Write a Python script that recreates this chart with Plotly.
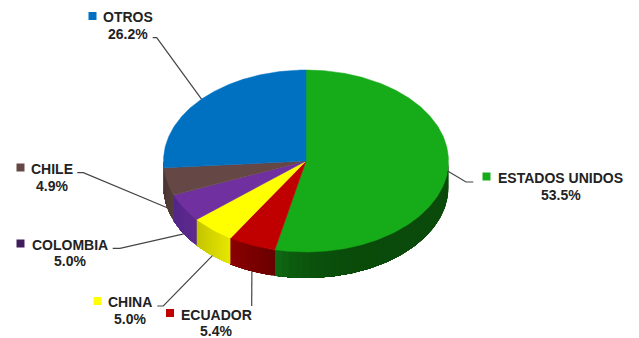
import numpy as np
import plotly.graph_objects as go

categories = ["ESTADOS UNIDOS", "ECUADOR", "CHINA", "COLOMBIA", "CHILE", "OTROS"]
values = [53.5, 5.4, 5.0, 5.0, 4.9, 26.2]
top_colors = ["#16AB18", "#C00000", "#FFFF00", "#7030A0", "#654845", "#0070C0"]
wall_left = ["#0E6A14", "#8C0000", "#C4C400", "#55278A", "#4A3532", "#0070C0"]
wall_right = ["#0A4A0A", "#6A0000", "#E6E600", "#5E2A8E", "#55403C", "#0070C0"]
wall_gamma = [8, 1, 1, 1, 1, 1]
swatch_colors = ["#16AB18", "#C00000", "#FFFF00", "#3F1D5C", "#654845", "#0070C0"]

# layout (pixels of the 639x338 picture)
CX, CY, RX, RY, DEPTH = 306, 161, 142.5, 91, 26
label_x = [560.5, 216, 130, 70, 52, 128]
name_y = [177.5, 314.5, 302, 244.5, 169, 17]
pct_y = [194.5, 331, 318.5, 261, 186, 34]
swatch_x = [486.5, 170, 97.5, 20.5, 20.5, 92.5]
swatch_y = [176.5, 313, 301, 243.5, 167.5, 16]
elbow_x = [466, 251.7, 163.3, 120, 83.3, 156.7]
elbow_y = [182, 306, 306, 248.3, 172.7, 37.7]
stub_x = [473.3, 251.7, 157.3, 112.7, 77.3, 152.7]
on_wall = [False, True, True, True, True, False]


def ellipse(deg, dy=0.0):
    a = np.radians(deg)
    return CX + RX * np.sin(a), CY - RY * np.cos(a) + dy


def lerp_hex(c1, c2, t):
    a = [int(c1[i:i + 2], 16) for i in (1, 3, 5)]
    b = [int(c2[i:i + 2], 16) for i in (1, 3, 5)]
    return "#%02X%02X%02X" % tuple(round(p + (q - p) * t) for p, q in zip(a, b))


edges = np.concatenate([[0], np.cumsum(values)]) / sum(values) * 360
fig = go.Figure()

# side wall: only the part of each slice facing the viewer (90..270 deg clockwise from top)
# each strip runs to the slice's far end, so later strips paint over earlier ones without seams
STRIPS = 36
for i, name in enumerate(categories):
    lo, hi = max(edges[i], 90), min(edges[i + 1], 270)
    if hi <= lo:
        continue
    steps = np.linspace(lo, hi, STRIPS + 1)
    for k in range(STRIPS):
        ang = np.linspace(steps[k], hi, max(int(hi - steps[k]) * 2, 6))
        tx, ty = ellipse(ang)
        bx, by = ellipse(ang[::-1], DEPTH)
        col = lerp_hex(wall_right[i], wall_left[i], ((k + 0.5) / STRIPS) ** wall_gamma[i])
        fig.add_trace(go.Scatter(
            x=np.r_[tx, bx], y=np.r_[ty, by], mode="lines", fill="toself",
            fillcolor=col, line=dict(width=0), hoverinfo="skip", showlegend=False))

# top face
for i, name in enumerate(categories):
    ang = np.linspace(edges[i], edges[i + 1], max(int(edges[i + 1] - edges[i]) * 2, 8))
    ex, ey = ellipse(ang)
    fig.add_trace(go.Scatter(
        x=np.r_[CX, ex, CX], y=np.r_[CY, ey, CY], mode="lines", fill="toself",
        fillcolor=top_colors[i], line=dict(width=0.5, color=top_colors[i]),
        name=name, text=f"{name}: {values[i]}%", hoverinfo="text", showlegend=False))

# leader lines, swatches, labels
for i, name in enumerate(categories):
    mid = (edges[i] + edges[i + 1]) / 2
    ax, ay = ellipse(mid, DEPTH if on_wall[i] else 0)
    fig.add_trace(go.Scatter(
        x=[ax, elbow_x[i], stub_x[i]], y=[ay, elbow_y[i], elbow_y[i]], mode="lines",
        line=dict(color="#444444", width=1.2), hoverinfo="skip", showlegend=False))
    fig.add_trace(go.Scatter(
        x=[swatch_x[i]], y=[swatch_y[i]], mode="markers",
        marker=dict(symbol="square", size=8, color=swatch_colors[i], line=dict(width=0)),
        hoverinfo="skip", showlegend=False))
    fig.add_annotation(x=label_x[i], y=name_y[i], text=f"<b>{name}</b>", showarrow=False,
                       xanchor="center", yanchor="middle")
    fig.add_annotation(x=label_x[i], y=pct_y[i], text=f"<b>{values[i]:.1f}%</b>", showarrow=False,
                       xanchor="center", yanchor="middle")

fig.update_layout(
    width=639, height=338, margin=dict(l=0, r=0, t=0, b=0),
    paper_bgcolor="white", plot_bgcolor="white", showlegend=False,
    font=dict(family="Liberation Sans, Arial, sans-serif", size=14, color="#222222"),
    xaxis=dict(range=[0, 639], visible=False, fixedrange=True),
    yaxis=dict(range=[338, 0], visible=False, fixedrange=True),
)
fig.write_html("out.html", config={"displayModeBar": False},
               post_script="document.body.style.margin='0';document.body.style.overflow='hidden';")
